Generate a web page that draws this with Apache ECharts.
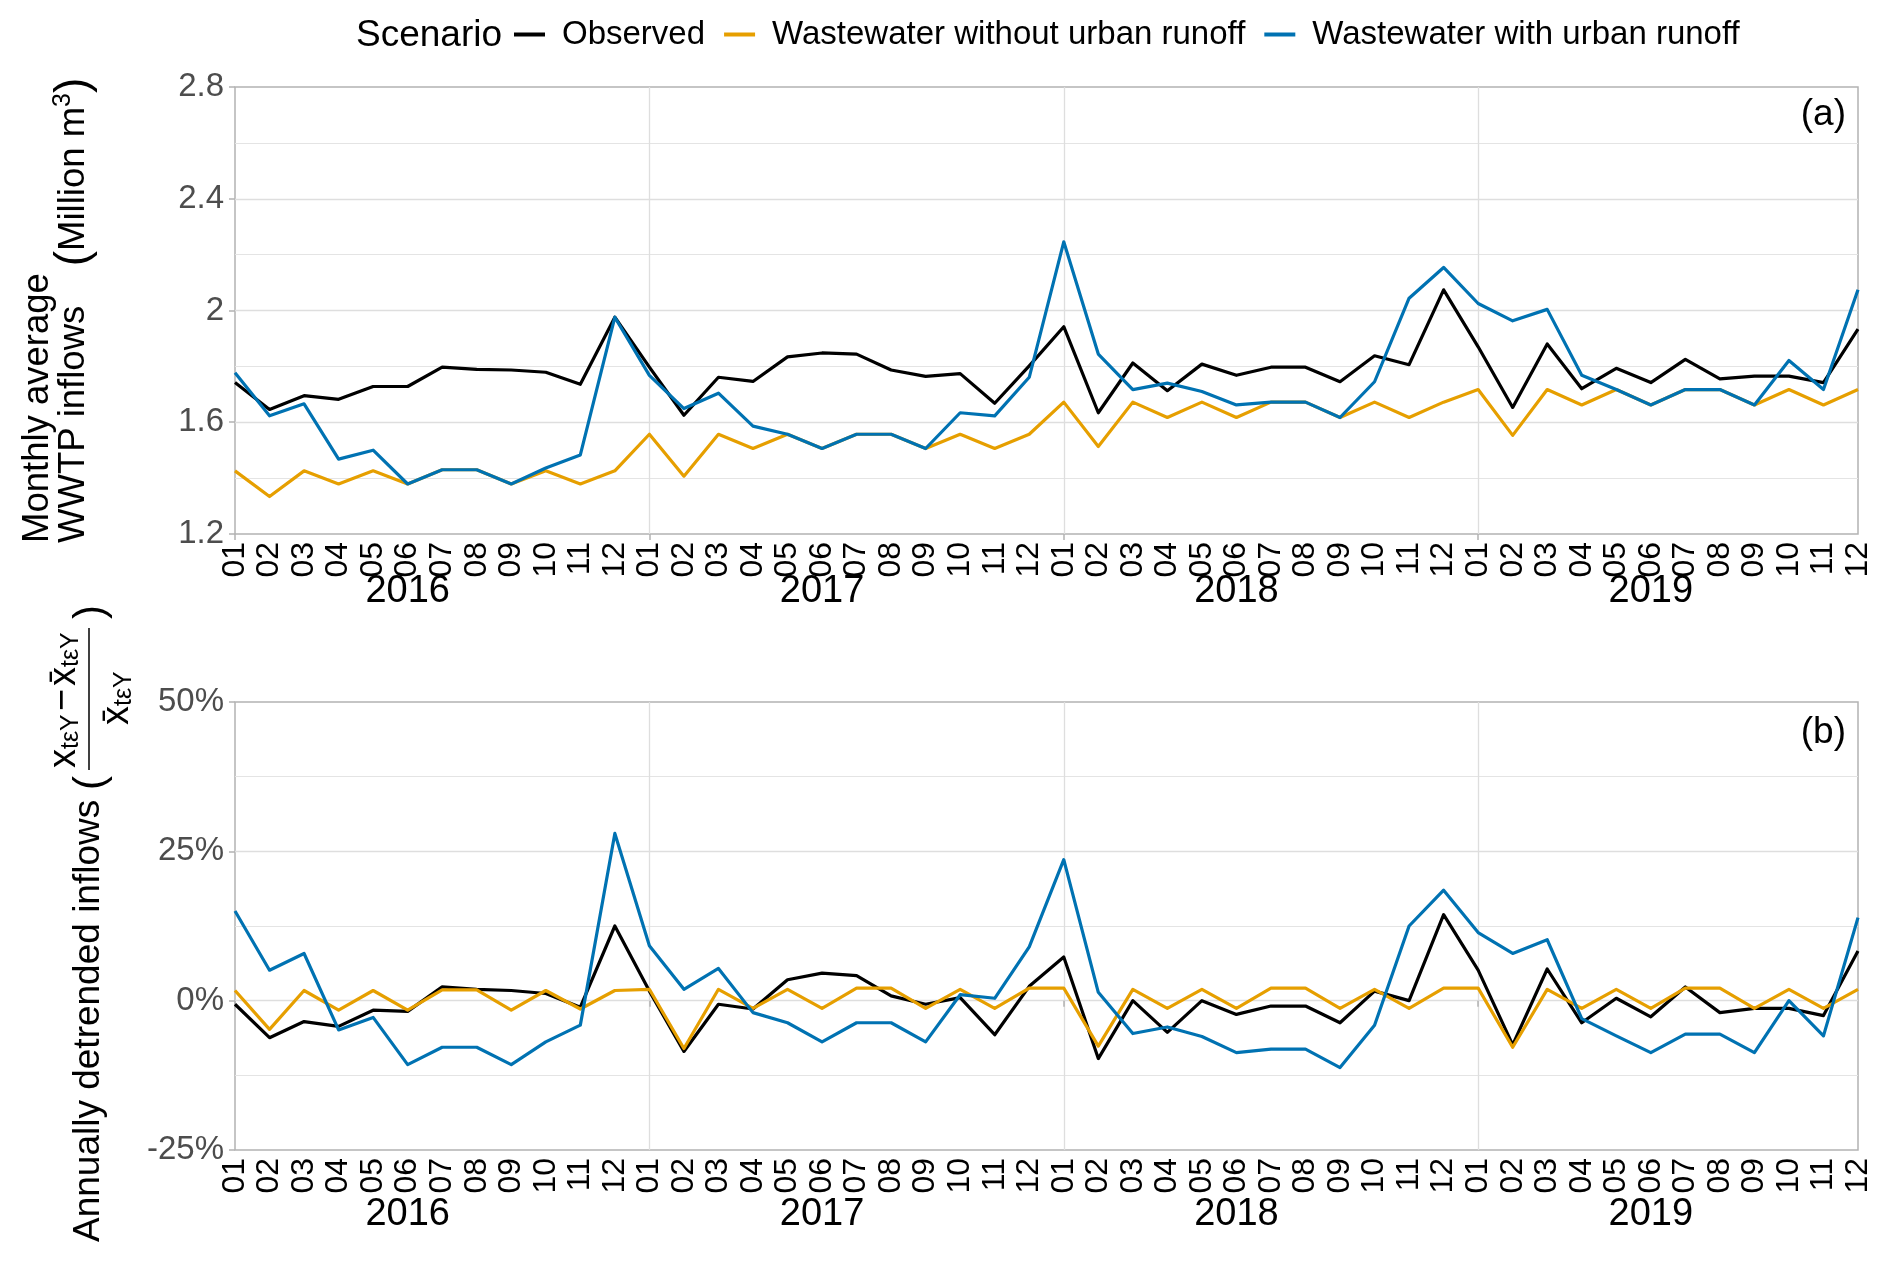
<!DOCTYPE html>
<html>
<head>
<meta charset="utf-8">
<script src="https://cdn.jsdelivr.net/npm/echarts@6/dist/echarts.min.js"></script>
<style>
html,body{margin:0;padding:0;background:#ffffff;}
#chart{width:1892px;height:1261px;}
</style>
</head>
<body>
<div id="chart"></div>
<script>
// ---------- data ----------
const years = ['2016', '2017', '2018', '2019'];
const months = ['01', '02', '03', '04', '05', '06', '07', '08', '09', '10', '11', '12'];
const seriesNames = ['Observed', 'Wastewater without urban runoff', 'Wastewater with urban runoff'];

// Panel (a): monthly average WWTP inflows (million m3)
const observedA = [
  1.742, 1.646, 1.695, 1.682, 1.728, 1.728, 1.797, 1.789, 1.787, 1.779, 1.736, 1.976,
  1.797, 1.625, 1.761, 1.746, 1.834, 1.848, 1.844, 1.787, 1.764, 1.774, 1.668, 1.802,
  1.942, 1.634, 1.812, 1.713, 1.808, 1.768, 1.797, 1.797, 1.745, 1.838, 1.806, 2.074,
  1.870, 1.653, 1.880, 1.720, 1.793, 1.742, 1.825, 1.755, 1.765, 1.765, 1.742, 1.933
];
const withoutRunoffA = [
  1.426, 1.334, 1.426, 1.379, 1.426, 1.379, 1.430, 1.430, 1.379, 1.426, 1.379, 1.426,
  1.557, 1.407, 1.557, 1.506, 1.557, 1.506, 1.557, 1.557, 1.506, 1.557, 1.506, 1.557,
  1.672, 1.513, 1.672, 1.617, 1.672, 1.617, 1.672, 1.672, 1.617, 1.672, 1.617, 1.672,
  1.717, 1.553, 1.717, 1.662, 1.717, 1.662, 1.717, 1.717, 1.662, 1.717, 1.662, 1.717
];
const withRunoffA = [
  1.777, 1.623, 1.666, 1.468, 1.500, 1.379, 1.430, 1.430, 1.379, 1.436, 1.483, 1.976,
  1.768, 1.649, 1.704, 1.586, 1.557, 1.506, 1.557, 1.557, 1.506, 1.634, 1.623, 1.761,
  2.246, 1.844, 1.717, 1.740, 1.710, 1.662, 1.672, 1.672, 1.617, 1.745, 2.044, 2.154,
  2.025, 1.963, 2.004, 1.768, 1.717, 1.662, 1.717, 1.717, 1.662, 1.821, 1.717, 2.074
];

// Panel (b): annually detrended inflows (%)
const observedB = [
  -0.6, -6.2, -3.5, -4.3, -1.6, -1.8, 2.3, 1.9, 1.7, 1.2, -1.1, 12.5,
  1.6, -8.5, -0.6, -1.4, 3.5, 4.6, 4.2, 0.8, -0.6, 0.5, -5.7, 2.4,
  7.3, -9.7, 0.0, -5.3, 0.0, -2.3, -0.9, -0.9, -3.7, 1.6, 0.0, 14.4,
  5.1, -7.4, 5.3, -3.7, 0.4, -2.7, 2.3, -2.0, -1.3, -1.3, -2.5, 8.3
];
const withoutRunoffB = [
  1.7, -4.8, 1.7, -1.6, 1.7, -1.6, 1.8, 1.8, -1.6, 1.7, -1.4, 1.7,
  1.9, -8.0, 1.9, -1.3, 1.9, -1.3, 2.1, 2.1, -1.3, 1.9, -1.3, 2.1,
  2.1, -7.6, 1.9, -1.3, 1.9, -1.3, 2.1, 2.1, -1.3, 1.9, -1.3, 2.1,
  2.1, -7.8, 1.9, -1.3, 1.9, -1.3, 2.1, 2.1, -1.3, 1.9, -1.3, 1.9
];
const withRunoffB = [
  15.0, 5.1, 7.9, -4.9, -2.8, -10.7, -7.8, -7.8, -10.7, -6.9, -4.1, 28.0,
  9.2, 1.9, 5.4, -2.0, -3.7, -6.9, -3.7, -3.7, -6.9, 1.0, 0.4, 9.0,
  23.6, 1.4, -5.5, -4.4, -6.0, -8.7, -8.1, -8.1, -11.2, -4.1, 12.5, 18.5,
  11.4, 7.9, 10.2, -3.0, -5.9, -8.7, -5.6, -5.6, -8.7, 0.0, -5.9, 13.9
];

// ---------- styling ----------
const FONT = "'Liberation Sans', Arial, Helvetica, sans-serif";
const COLORS = ['#000000', '#E69F00', '#0072B2'];
const BORDER = '#B3B3B3';
const GRID_MAJOR = '#DEDEDE';
const GRID_MINOR = '#E4E4E4';

const categories = [];
years.forEach(function (y) { months.forEach(function (m) { categories.push(y + '-' + m); }); });

function monthAxis(gridIndex) {
  return {
    type: 'category', gridIndex: gridIndex, data: categories, boundaryGap: false,
    axisLine: { show: false },
    axisTick: { show: true, interval: function (i) { return i % 12 === 0; }, length: 6,
      lineStyle: { color: BORDER, width: 1.5 } },
    axisLabel: { interval: 0, rotate: 90, margin: 8, fontSize: 32, color: '#000', fontFamily: FONT,
      formatter: function (v) { return v.slice(5); } },
    splitLine: { show: true, interval: function (i) { return i % 12 === 0 && i > 0; },
      lineStyle: { color: GRID_MAJOR, width: 1.3 } }
  };
}
function yearAxis(gridIndex, offset) {
  return {
    type: 'category', gridIndex: gridIndex, data: categories, boundaryGap: false,
    position: 'bottom', offset: offset,
    axisLine: { show: false }, axisTick: { show: false }, splitLine: { show: false },
    axisLabel: { interval: 0, margin: 8, fontSize: 38, color: '#000', fontFamily: FONT,
      formatter: function (v, i) { return (i % 12 === 5) ? v.slice(0, 4) : ''; } }
  };
}
function valueAxis(gridIndex, min, max, interval, fmt) {
  return {
    type: 'value', gridIndex: gridIndex, min: min, max: max, interval: interval,
    axisLine: { show: false },
    axisTick: { show: true, length: 6, lineStyle: { color: BORDER, width: 1.5 } },
    axisLabel: { fontSize: 33, color: '#4D4D4D', margin: 11, fontFamily: FONT, formatter: fmt },
    splitLine: { show: true, showMinLine: false, showMaxLine: false,
      lineStyle: { color: GRID_MAJOR, width: 1.3 } },
    minorTick: { show: false, splitNumber: 2 },
    minorSplitLine: { show: true, lineStyle: { color: GRID_MINOR, width: 1.1 } }
  };
}
function lineSeries(name, xi, yi, data, color, z) {
  return {
    name: name, type: 'line', xAxisIndex: xi, yAxisIndex: yi, data: data,
    symbol: 'none', showSymbol: false, color: color, z: z,
    lineStyle: { width: 3.2, color: color, join: 'round' },
    emphasis: { disabled: true }
  };
}
function rotText(x, y, text, size, align) {
  return { type: 'text', x: x, y: y, rotation: Math.PI / 2,
    style: { text: text, fill: '#000', fontSize: size, fontFamily: FONT,
      textAlign: align, align: align, textVerticalAlign: 'middle', verticalAlign: 'middle' } };
}
function plainText(x, y, text, size, align) {
  return { type: 'text', x: x, y: y,
    style: { text: text, fill: '#000', fontSize: size, fontFamily: FONT,
      textAlign: align, align: align, textVerticalAlign: 'middle', verticalAlign: 'middle' } };
}

const chart = echarts.init(document.getElementById('chart'), null, { renderer: 'canvas' });

const option = {
  backgroundColor: '#ffffff',
  animation: false,
  textStyle: { fontFamily: FONT },
  legend: {
    left: 514, top: 18, padding: 0, orient: 'horizontal', icon: 'rect',
    itemWidth: 31, itemHeight: 4, itemGap: 19, selectedMode: false,
    data: seriesNames,
    formatter: '{t|{name}}',
    textStyle: { color: '#000', fontSize: 33, fontFamily: FONT,
      rich: { t: { color: '#000', fontSize: 33, fontFamily: FONT, padding: [0, 0, 0, 12] } } }
  },
  grid: [
    { left: 235, top: 87, width: 1623, height: 447, show: true, borderColor: BORDER, borderWidth: 1.5,
      backgroundColor: 'transparent', outerBoundsMode: 'none', containLabel: false },
    { left: 235, top: 702, width: 1623, height: 448, show: true, borderColor: BORDER, borderWidth: 1.5,
      backgroundColor: 'transparent', outerBoundsMode: 'none', containLabel: false }
  ],
  xAxis: [ monthAxis(0), yearAxis(0, 31), monthAxis(1), yearAxis(1, 38) ],
  yAxis: [
    valueAxis(0, 1.2, 2.8, 0.4, function (v) { return String(Math.round(v * 10) / 10); }),
    valueAxis(1, -25, 50, 25, function (v) { return Math.round(v) + '%'; })
  ],
  series: [
    lineSeries(seriesNames[0], 0, 0, observedA, COLORS[0], 3),
    lineSeries(seriesNames[1], 0, 0, withoutRunoffA, COLORS[1], 4),
    lineSeries(seriesNames[2], 0, 0, withRunoffA, COLORS[2], 5),
    lineSeries(seriesNames[0], 2, 1, observedB, COLORS[0], 3),
    lineSeries(seriesNames[1], 2, 1, withoutRunoffB, COLORS[1], 4),
    lineSeries(seriesNames[2], 2, 1, withRunoffB, COLORS[2], 5)
  ],
  graphic: [
    plainText(356, 36, 'Scenario', 37, 'left'),
    plainText(1846, 115, '(a)', 37, 'right'),
    plainText(1846, 733, '(b)', 37, 'right'),
    // panel (a) y title
    rotText(38, 543, 'Monthly average', 36.5, 'left'),
    rotText(74, 543, 'WWTP inflows', 36.5, 'left'),
    { type: 'text', x: 74, y: 172, rotation: Math.PI / 2,
      style: { text: '{p|(}{t|Million m}{s|3}{p|)}', fill: '#000', fontFamily: FONT,
        textAlign: 'center', align: 'center', textVerticalAlign: 'middle', verticalAlign: 'middle',
        rich: {
          p: { fontSize: 46, fontFamily: FONT, fill: '#000', color: '#000' },
          t: { fontSize: 36.5, fontFamily: FONT, fill: '#000', color: '#000' },
          s: { fontSize: 25, fontFamily: FONT, fill: '#000', color: '#000', verticalAlign: 'top', lineHeight: 16 }
        } } },
    // panel (b) y title
    rotText(89, 1242, 'Annually detrended inflows', 37, 'left'),
    { type: 'group', x: 91, y: 698, rotation: Math.PI / 2, children: [
      plainText(-85, 0, '(', 42, 'center'),
      plainText(86, 0, ')', 42, 'center'),
      { type: 'line', shape: { x1: -72, y1: -2, x2: 70, y2: -2 }, style: { stroke: '#000', lineWidth: 1.5 } },
      plainText(-70, -26, 'x', 38, 'left'),
      plainText(-51, -20, 'tεY', 25, 'left'),
      plainText(-13, -27, '\u2212', 38, 'left'),
      plainText(12, -26, 'x\u0304', 38, 'left'),
      plainText(31, -20, 'tεY', 25, 'left'),
      plainText(-27, 27, 'x\u0304', 38, 'left'),
      plainText(-8, 33, 'tεY', 25, 'left')
    ] }
  ]
};
chart.setOption(option);
</script>
</body>
</html>
